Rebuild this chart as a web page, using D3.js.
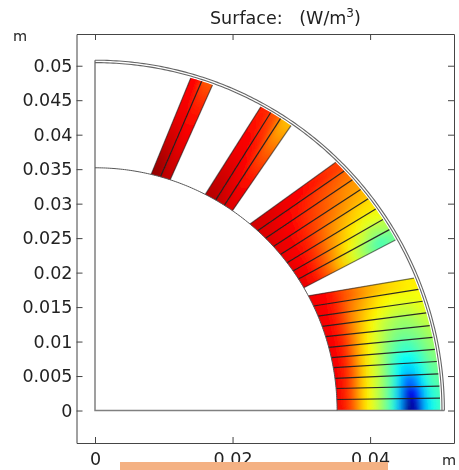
<!DOCTYPE html>
<html>
<head>
<meta charset="utf-8">
<style>
    html, body { margin: 0; padding: 0; background: #fff; }
    svg { display: block; }
    text { font-family: "DejaVu Sans", sans-serif; fill: #222; }
</style>
<script src="https://cdn.jsdelivr.net/npm/d3@7"></script>
</head>
<body>
<script>
// Tick values and labels
const xTicks = [0, 0.02, 0.04];
const xTickLabels = ['0', '0.02', '0.04'];
const yTicks = [0, 0.005, 0.01, 0.015, 0.02, 0.025, 0.03, 0.035, 0.04, 0.045, 0.05];
const yTickLabels = ['0', '0.005', '0.01', '0.015', '0.02', '0.025', '0.03', '0.035', '0.04', '0.045', '0.05'];

// Radii of the geometry arcs (m)
const boreRadius = 0.0352;
const coilRadius = 0.0502;
const shellRadii = [0.05045, 0.0508];

// Conductor edges of each coil block: polar angle (deg) at bore and at outer end
const block1Inner = [0, 2.6, 5.2, 7.6, 10.2, 12.6, 15.1, 17.7, 20.3, 22.9, 25.5, 28.2];
const block1Outer = [0, 2.04, 4.03, 6.09, 8.14, 10.16, 12.2, 14.2, 16.4, 18.4, 20.5, 22.5];
const block2Inner = [30.4, 32.8, 35.1, 37.5, 40, 42.5, 45.2, 47.8, 50.2];
const block2Outer = [29.5, 31.5, 33.5, 35.6, 37.7, 39.7, 41.8, 43.8, 45.8];
const block3Inner = [55.4, 57.7, 60.1, 62.9];
const block3Outer = [55.4, 57.5, 59.4, 61.3];
const block4Inner = [71.9, 74.3, 76.6];
const block4Outer = [70.1, 72, 73.9];

// Surface value (0 = dark red, 1 = dark blue) read along each conductor, bore to outer end
const block1Values = [
    [0.11, 0.15, 0.21, 0.3, 0.37, 0.43, 0.5, 0.58, 0.72, 1, 0.95, 0.7, 0.61, 0.56],
    [0.11, 0.15, 0.21, 0.3, 0.37, 0.43, 0.49, 0.57, 0.7, 0.92, 0.86, 0.68, 0.59, 0.55],
    [0.11, 0.14, 0.2, 0.29, 0.36, 0.42, 0.48, 0.55, 0.66, 0.78, 0.75, 0.64, 0.56, 0.53],
    [0.11, 0.14, 0.19, 0.27, 0.35, 0.41, 0.47, 0.54, 0.62, 0.68, 0.66, 0.6, 0.54, 0.51],
    [0.11, 0.13, 0.18, 0.26, 0.34, 0.4, 0.45, 0.52, 0.58, 0.62, 0.61, 0.57, 0.52, 0.49],
    [0.11, 0.13, 0.17, 0.25, 0.32, 0.38, 0.43, 0.49, 0.53, 0.56, 0.56, 0.53, 0.5, 0.47],
    [0.11, 0.13, 0.16, 0.23, 0.3, 0.36, 0.41, 0.45, 0.49, 0.51, 0.51, 0.5, 0.48, 0.45],
    [0.11, 0.13, 0.16, 0.22, 0.28, 0.33, 0.38, 0.42, 0.45, 0.47, 0.48, 0.47, 0.45, 0.43],
    [0.11, 0.12, 0.15, 0.2, 0.26, 0.3, 0.34, 0.37, 0.4, 0.42, 0.43, 0.43, 0.41, 0.4],
    [0.11, 0.12, 0.14, 0.18, 0.23, 0.27, 0.3, 0.33, 0.36, 0.38, 0.39, 0.39, 0.39, 0.38],
    [0.11, 0.12, 0.13, 0.16, 0.2, 0.23, 0.26, 0.29, 0.31, 0.33, 0.34, 0.35, 0.36, 0.36]
];
const block2Values = [
    [0.1, 0.14, 0.22, 0.32, 0.41, 0.49, 0.55, 0.51],
    [0.1, 0.13, 0.2, 0.28, 0.36, 0.42, 0.47, 0.45],
    [0.1, 0.13, 0.18, 0.25, 0.31, 0.36, 0.4, 0.39],
    [0.1, 0.12, 0.16, 0.22, 0.27, 0.31, 0.34, 0.35],
    [0.1, 0.11, 0.15, 0.19, 0.23, 0.26, 0.29, 0.31],
    [0.09, 0.11, 0.13, 0.17, 0.2, 0.23, 0.26, 0.28],
    [0.09, 0.1, 0.12, 0.14, 0.17, 0.2, 0.22, 0.24],
    [0.08, 0.09, 0.1, 0.115, 0.13, 0.15, 0.17, 0.19]
];
const block3Values = [
    [0.09, 0.11, 0.14, 0.18, 0.22, 0.27, 0.31],
    [0.07, 0.09, 0.11, 0.13, 0.15, 0.18, 0.21],
    [0.05, 0.07, 0.09, 0.11, 0.12, 0.14, 0.16]
];
const block4Values = [
    [0.06, 0.08, 0.1, 0.12, 0.14, 0.17, 0.21],
    [0.02, 0.04, 0.07, 0.09, 0.11, 0.12, 0.13]
];

const width = 459;
const height = 470;

let svg = d3.select('body')
    .append('svg')
    .attr('width', width)
    .attr('height', height);

let defs = svg.append('defs');

// Blur used to smooth the colour steps between conductors
let blur = defs.append('filter')
    .attr('id', 'smooth')
    .attr('x', '-20%')
    .attr('y', '-20%')
    .attr('width', '140%')
    .attr('height', '140%');
blur.append('feGaussianBlur')
    .attr('stdDeviation', 3);

// Very light softening of the whole plot, the reference is not sharp
let soft = defs.append('filter')
    .attr('id', 'soft')
    .attr('filterUnits', 'userSpaceOnUse')
    .attr('x', 0)
    .attr('y', 0)
    .attr('width', width)
    .attr('height', height);
soft.append('feGaussianBlur')
    .attr('stdDeviation', 0.4);

let chart = svg.append('g')
    .attr('filter', 'url(#soft)');

// Scales
let x = d3.scaleLinear().domain([-0.00269, 0.0522]).range([76.5, 454]);
let y = d3.scaleLinear().domain([-0.00471, 0.0546]).range([443, 34]);

// Rainbow colour map, dark red to dark blue
let colour = d3.scaleLinear()
    .domain([0, 0.125, 0.375, 0.625, 0.875, 1])
    .range(['#800000', '#ff0000', '#ffff00', '#00ffff', '#0000ff', '#00008f']);

let polar = (r, deg) => {
    let a = deg * Math.PI / 180;
    return [x(r * Math.cos(a)), y(r * Math.sin(a))];
};

// Points along an arc between two angles
let arcPoints = (r, from, to) => {
    let n = Math.max(2, Math.ceil(Math.abs(to - from) * 2));
    return d3.range(n + 1).map(i => polar(r, from + (to - from) * i / n));
};

let line = d3.line();

// Drawing the coil blocks
let blocks = [
    { inner: block1Inner, outer: block1Outer, values: block1Values },
    { inner: block2Inner, outer: block2Outer, values: block2Values },
    { inner: block3Inner, outer: block3Outer, values: block3Values },
    { inner: block4Inner, outer: block4Outer, values: block4Values }
];

let coilLayer = chart.append('g');

blocks.forEach((block, b) => {
    let n = block.values.length;

    // Clip for the blurred layer, the outline of the whole block
    let outline = arcPoints(boreRadius, block.inner[0], block.inner[n])
        .concat(arcPoints(coilRadius, block.outer[n], block.outer[0]));
    defs.append('clipPath')
        .attr('id', 'block' + b)
        .append('path')
        .attr('d', line(outline) + 'Z');

    let paths = block.values.map((vals, i) => {
        let pts = arcPoints(boreRadius, block.inner[i], block.inner[i + 1])
            .concat(arcPoints(coilRadius, block.outer[i + 1], block.outer[i]));

        // Radial gradient around the origin, so colours follow the arcs
        let grad = defs.append('radialGradient')
            .attr('id', 'grad' + b + '_' + i)
            .attr('gradientUnits', 'userSpaceOnUse')
            .attr('cx', x(0))
            .attr('cy', y(0))
            .attr('r', x(coilRadius) - x(0));
        vals.forEach((v, k) => {
            let r = boreRadius + (coilRadius - boreRadius) * k / (vals.length - 1);
            grad.append('stop')
                .attr('offset', r / coilRadius)
                .attr('stop-color', colour(v));
        });
        return { d: line(pts) + 'Z', fill: 'url(#grad' + b + '_' + i + ')' };
    });

    // Plain strips underneath so the block edges stay solid
    coilLayer.selectAll('.base' + b)
        .data(paths)
        .join('path')
        .attr('class', 'base' + b)
        .attr('d', d => d.d)
        .attr('fill', d => d.fill);

    // Blurred copy on top, clipped to the block
    coilLayer.append('g')
        .attr('clip-path', 'url(#block' + b + ')')
        .append('g')
        .attr('filter', 'url(#smooth)')
        .selectAll('path')
        .data(paths)
        .join('path')
        .attr('d', d => d.d)
        .attr('fill', d => d.fill);

    // Conductor edges
    coilLayer.selectAll('.edge' + b)
        .data(d3.range(n + 1))
        .join('path')
        .attr('class', 'edge' + b)
        .attr('d', i => line([polar(boreRadius, block.inner[i]), polar(coilRadius, block.outer[i])]))
        .attr('fill', 'none')
        .attr('stroke', '#222')
        .attr('stroke-opacity', i => (i === 0 || i === n) ? 0.6 : 0.95)
        .attr('stroke-width', 1.2);
});

// Drawing the geometry lines
chart.append('path')
    .attr('d', line([[x(0), y(shellRadii[1])], [x(0), y(0)], [x(shellRadii[1]), y(0)]]))
    .attr('fill', 'none')
    .attr('stroke', '#808080')
    .attr('stroke-width', 1.5);

chart.append('path')
    .attr('d', line(arcPoints(boreRadius, 0, 90)))
    .attr('fill', 'none')
    .attr('stroke', '#555')
    .attr('stroke-width', 1);

chart.selectAll('.shell')
    .data(shellRadii)
    .join('path')
    .attr('class', 'shell')
    .attr('d', r => line(arcPoints(r, 0, 90)))
    .attr('fill', 'none')
    .attr('stroke', '#666')
    .attr('stroke-width', 1.1);

// Axes, all ticks pointing into the frame
let xLabel = d => xTickLabels[xTicks.indexOf(d)];
let yLabel = d => yTickLabels[yTicks.indexOf(d)];

let axes = [
    chart.append('g').attr('transform', `translate(0,${y.range()[0]})`)
        .call(d3.axisBottom(x).tickValues(xTicks).tickFormat(xLabel).tickSizeInner(-6).tickSizeOuter(0).tickPadding(10)),
    chart.append('g').attr('transform', `translate(0,${y.range()[1]})`)
        .call(d3.axisTop(x).tickValues(xTicks).tickFormat('').tickSizeInner(-6).tickSizeOuter(0)),
    chart.append('g').attr('transform', `translate(${x.range()[0]},0)`)
        .call(d3.axisLeft(y).tickValues(yTicks).tickFormat(yLabel).tickSizeInner(-6).tickSizeOuter(0).tickPadding(4)),
    chart.append('g').attr('transform', `translate(${x.range()[1]},0)`)
        .call(d3.axisRight(y).tickValues(yTicks).tickFormat('').tickSizeInner(-6).tickSizeOuter(0))
];
axes.forEach(a => {
    a.selectAll('.domain, line').attr('stroke', '#444');
    a.selectAll('text')
        .attr('font-family', '"DejaVu Sans", sans-serif')
        .attr('font-size', 17.5)
        .attr('fill', '#222');
});

// Title and unit labels
let title = chart.append('text')
    .attr('x', 210)
    .attr('y', 24)
    .attr('font-size', 17.5)
    .text('Surface:\u00a0\u00a0\u00a0(W/m');
title.append('tspan')
    .attr('dy', -7)
    .attr('font-size', 12)
    .text('3');
title.append('tspan')
    .attr('dy', 7)
    .text(')');

chart.append('text')
    .attr('x', 13)
    .attr('y', 41)
    .attr('font-size', 14.5)
    .attr('fill', '#444')
    .text('m');

chart.append('text')
    .attr('x', 442)
    .attr('y', 465)
    .attr('font-size', 14.5)
    .attr('fill', '#444')
    .text('m');

// Orange bar along the bottom edge of the picture
svg.append('rect')
    .attr('x', 120)
    .attr('y', 462)
    .attr('width', 268)
    .attr('height', 8)
    .attr('fill', '#f4b183');
</script>
</body>
</html>
